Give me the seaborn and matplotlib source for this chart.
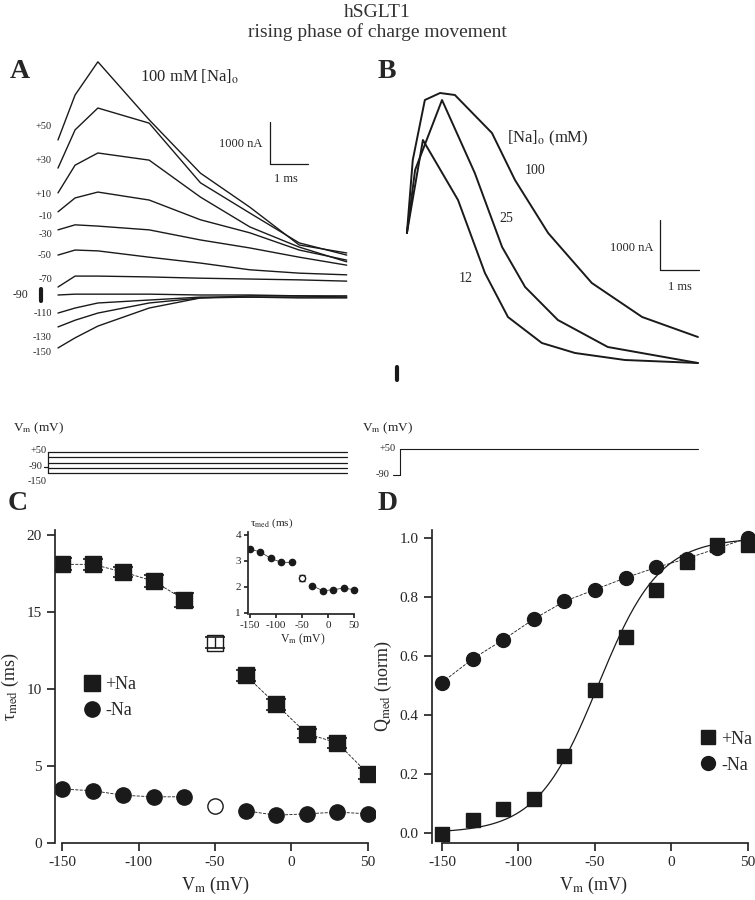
import numpy as np
import pandas as pd
import seaborn as sns
from matplotlib import pyplot as plt

sns.set_theme(style="ticks")
plt.rcParams['font.family'] = ['Liberation Serif', 'DejaVu Serif']
plt.rcParams['mathtext.fontset'] = 'stix'

W, H = 755, 900

# ---- panel A: current traces at each Vm (time ms, current nA) ----
tA = [0, 0.45, 1.05, 2.4, 3.75, 5.05, 6.35, 7.6]
tracesA = {
    '+50': [3690, 4760, 5550, 4170, 2900, 2090, 1190, 1000],
    '+30': [3020, 3930, 4450, 4090, 2670, 1950, 1240, 950],
    '+10': [2430, 3090, 3380, 3210, 2330, 1620, 1140, 790],
    '-10': [1980, 2310, 2450, 2260, 1790, 1480, 1070, 830],
    '-30': [1550, 1670, 1640, 1550, 1310, 1120, 900, 710],
    '-50': [950, 1070, 1050, 900, 760, 600, 520, 480],
    '-70': [190, 450, 450, 430, 400, 380, 360, 330],
    '-90': [0, 20, 20, 20, 0, 0, -20, -50],
    '-110': [-430, -310, -190, -120, -50, -50, -70, -70],
    '-130': [-760, -600, -430, -190, -70, -50, -50, -50],
    '-150': [-1260, -1020, -740, -310, -70, -20, -20, -20],
}
labelA_y = {'+50': 4000, '+30': 3210, '+10': 2400, '-10': 1880, '-30': 1450,
            '-50': 930, '-70': 380, '-110': -430, '-130': -1000,
            '-150': -1380}

# ---- panel B: traces at three [Na]o (mM) ----
tracesB = {
    '12': ([0, 0.41, 1.31, 2.0, 2.59, 3.46, 4.31, 5.59, 7.46],
           [2800, 4660, 3460, 2000, 1120, 600, 400, 260, 200]),
    '25': ([0, 0.21, 0.9, 1.74, 2.44, 3.03, 3.87, 5.15, 7.46],
           [2800, 4060, 5460, 4000, 2520, 1720, 1060, 520, 200]),
    '100': ([0, 0.15, 0.46, 0.85, 1.23, 2.18, 2.77, 3.62, 4.74, 6.03, 7.46],
            [2800, 4260, 5460, 5600, 5560, 4800, 3860, 2800, 1800, 1120, 720]),
}
labelB_pos = {'100': (3.28, 4040), '25': (2.56, 3080), '12': (1.5, 1880)}

# ---- voltage protocols (mV) ----
stepsA = [50, 0, -50, -100, -150]
stepsB = [50]

# ---- panels C / D ----
vm = [-150, -130, -110, -90, -70, -50, -30, -10, 10, 30, 50]
tau_na = [18.1, 18.1, 17.6, 17.0, 15.8, 13.0, 10.9, 9.0, 7.1, 6.5, 4.5]
tau_na_err = [0.4, 0.35, 0.35, 0.4, 0.45, 0.35, 0.35, 0.35, 0.3, 0.3, 0.35]
tau_nona = [3.5, 3.4, 3.1, 3.0, 3.0, 2.4, 2.1, 1.8, 1.9, 2.0, 1.9]
tau_inset = [3.45, 3.35, 3.1, 2.95, 2.95, 2.35, 2.05, 1.85, 1.9, 1.95, 1.9]
q_na = [-0.005, 0.045, 0.08, 0.115, 0.26, 0.485, 0.665, 0.825, 0.92, 0.975, 0.975]
q_nona = [0.51, 0.59, 0.655, 0.725, 0.785, 0.825, 0.865, 0.9, 0.93, 0.965, 1.0]
v_half, slope_k = -48.0, 20.0  # Boltzmann fit parameters

df = pd.DataFrame(dict(vm=vm, tau_na=tau_na, tau_nona=tau_nona,
                       tau_inset=tau_inset, q_na=q_na, q_nona=q_nona))
closed = df[df.vm != -50]
opened = df[df.vm == -50]


def px_axes(x0, y0, x1, y1):
    return fig.add_axes([x0 / W, 1 - y1 / H, (x1 - x0) / W, (y1 - y0) / H])


fig = plt.figure(figsize=(7.55, 9), dpi=100)
fig.text(0.5, 1 - 4 / H, 'hSGLT1\nrising phase of charge movement',
         ha='center', va='top', fontsize=14, color='#333333', linespacing=1.15)

# panel A
axA = px_axes(20, 45, 360, 370)
axA.set_xlim(-1.0, 7.95)
axA.set_ylim(-1785, 5950)
axA.axis('off')
for lab, vals in tracesA.items():
    sns.lineplot(x=tA, y=vals, ax=axA, color='k', lw=1.0)
    if lab in labelA_y:
        axA.text(-0.16, labelA_y[lab], lab, ha='right', va='center', fontsize=7.5)
axA.text(-0.79, 0, '-90', ha='right', va='center', fontsize=8.5)
axA.plot([-0.45, -0.45], [-150, 150], color='k', lw=3)
axA.plot([5.58, 5.58, 6.58], [4120, 3120, 3120], color='k', lw=0.9)
axA.text(5.39, 3590, '1000 nA', ha='right', va='center', fontsize=9)
axA.text(6.0, 2760, '1 ms', ha='center', va='center', fontsize=9)
axA.text(3.47, 5190, '100 mM [Na]$_\\mathrm{o}$', ha='center', va='center', fontsize=12)

# panel B
axB = px_axes(380, 45, 710, 390)
axB.set_xlim(-0.69, 7.77)
axB.set_ylim(-340, 6560)
axB.axis('off')
for lab, (tt, vals) in tracesB.items():
    sns.lineplot(x=tt, y=vals, ax=axB, color='k', lw=1.4)
    axB.text(*labelB_pos[lab], lab, ha='center', va='center', fontsize=10)
axB.plot([-0.26, -0.26], [-130, 130], color='k', lw=3)
axB.plot([6.49, 6.49, 7.49], [3060, 2060, 2060], color='k', lw=0.9)
axB.text(6.31, 2500, '1000 nA', ha='right', va='center', fontsize=9)
axB.text(6.99, 1720, '1 ms', ha='center', va='center', fontsize=9)
axB.text(3.6, 4700, '[Na]$_\\mathrm{o}$ (mM)', ha='center', va='center', fontsize=12)

# protocols
axPA = px_axes(20, 440, 360, 485)
axPA.set_xlim(-1.0, 7.95)
axPA.set_ylim(-264, 164)
axPA.axis('off')
for v in stepsA:
    axPA.plot([-0.26, 7.6], [v, v], color='k', lw=0.9)
axPA.plot([-0.26, -0.26], [-150, 50], color='k', lw=0.9)
axPA.plot([-0.37, -0.26], [-90, -90], color='k', lw=0.9)
axPA.text(-0.3, 60, '+50', ha='right', va='center', fontsize=7.5)
axPA.text(-0.4, -90, '-90', ha='right', va='center', fontsize=7.5)
axPA.text(-0.3, -185, '-150', ha='right', va='top', fontsize=7.5)
fig.text(13 / W, 1 - 428 / H, 'V$_\\mathrm{m}$ (mV)', fontsize=9.5, va='center')

axPB = px_axes(380, 440, 710, 485)
axPB.set_xlim(-0.69, 7.77)
axPB.set_ylim(-144, 98)
axPB.axis('off')
for v in stepsB:
    axPB.plot([-0.18, 7.46], [v, v], color='k', lw=0.8)
axPB.plot([-0.18, -0.18], [-90, 50], color='k', lw=0.8)
axPB.plot([-0.36, -0.18], [-90, -90], color='k', lw=0.8)
axPB.text(-0.3, 50, '+50', ha='right', va='center', fontsize=7.5)
axPB.text(-0.45, -90, '-90', ha='right', va='center', fontsize=7.5)
fig.text(362 / W, 1 - 428 / H, 'V$_\\mathrm{m}$ (mV)', fontsize=9.5, va='center')

# panel C
axC = px_axes(55, 530, 375, 843)
axC.set_xlim(-154.6, 54.6)
axC.set_ylim(0, 20.33)
for part in [closed[closed.vm < -50], closed[closed.vm > -50]]:
    sns.lineplot(data=part, x='vm', y='tau_na', ax=axC, color='k', lw=0.6,
                 linestyle='--')
    sns.lineplot(data=part, x='vm', y='tau_nona', ax=axC, color='k', lw=0.6,
                 linestyle='--')
axC.plot(closed.vm, closed.tau_na, 's', color='k', ms=11, label='+Na')
axC.plot(closed.vm, closed.tau_nona, 'o', color='k', ms=11, label='-Na')
axC.plot(opened.vm, opened.tau_na, 's', mfc='white', mec='k', ms=11)
axC.plot(opened.vm, opened.tau_nona, 'o', mfc='white', mec='k', ms=11)
axC.errorbar(vm, tau_na, yerr=tau_na_err, fmt='none', ecolor='k', capsize=7,
             capthick=1.2, lw=1, zorder=5)
axC.set_xticks([-150, -100, -50, 0, 50])
axC.set_yticks([0, 5, 10, 15, 20])
axC.set_xlabel('V$_\\mathrm{m}$ (mV)', fontsize=13)
axC.set_ylabel('τ$_\\mathrm{med}$ (ms)', fontsize=13)
axC.legend(loc='center left', bbox_to_anchor=(0.06, 0.465), frameon=False,
           fontsize=13, handletextpad=0.1, borderaxespad=0, labelspacing=0.5,
           handlelength=1.2)

# inset
axI = px_axes(248, 532, 358, 614)
axI.set_xlim(-153.8, 57.7)
axI.set_ylim(0.96, 4.115)
for part in [closed[closed.vm < -50], closed[closed.vm > -50]]:
    sns.lineplot(data=part, x='vm', y='tau_inset', ax=axI, color='k', lw=0.5)
axI.plot(closed.vm, closed.tau_inset, 'o', color='k', ms=4.5)
axI.errorbar(opened.vm, opened.tau_inset, yerr=0.12, fmt='o', mfc='white',
             mec='k', ecolor='k', ms=4.5, capsize=2, lw=0.7)
axI.set_xticks([-150, -100, -50, 0, 50])
axI.set_xticklabels(['-150', '-100', '-50', '0', '50'])
axI.set_yticks([1, 2, 3, 4])
axI.tick_params(labelsize=8, length=3, pad=2)
axI.set_xlabel('V$_\\mathrm{m}$ (mV)', fontsize=8.5, labelpad=1)
axI.set_ylabel('')
axI.text(0.02, 1.02, 'τ$_\\mathrm{med}$ (ms)', transform=axI.transAxes,
         fontsize=8, va='bottom')

# panel D
axD = px_axes(432, 530, 755, 843)
axD.set_xlim(-156.5, 54.6)
axD.set_ylim(-0.034, 1.027)
vfit = np.linspace(-150, 50, 200)
axD.plot(vfit, 1 / (1 + np.exp(-(vfit - v_half) / slope_k)), color='k', lw=0.9)
sns.lineplot(data=df, x='vm', y='q_nona', ax=axD, color='k', lw=0.6,
             linestyle='--')
axD.plot(df.vm, df.q_na, 's', color='k', ms=9.5, label='+Na')
axD.plot(df.vm, df.q_nona, 'o', color='k', ms=10, label='-Na')
axD.set_xticks([-150, -100, -50, 0, 50])
axD.set_yticks(np.arange(0, 1.01, 0.2))
axD.set_yticklabels([f'{v:.1f}' for v in np.arange(0, 1.01, 0.2)])
axD.set_xlabel('V$_\\mathrm{m}$ (mV)', fontsize=13)
axD.set_ylabel('Q$_\\mathrm{med}$ (norm)', fontsize=13)
axD.legend(loc='center left', bbox_to_anchor=(0.8, 0.29), frameon=False,
           fontsize=13, handletextpad=0.1, borderaxespad=0, labelspacing=0.5,
           handlelength=1.2)

for ax in (axC, axD, axI):
    sns.despine(ax=ax)
    ax.spines['bottom'].set_bounds(-150, 50)
for ax in (axC, axD):
    ax.set_xticklabels(['-150', '-100', '-50', '0', '50'])
    ax.tick_params(labelsize=11, direction='out')

for x, y, s in [(10, 72, 'A'), (378, 72, 'B'), (8, 503, 'C'), (378, 503, 'D')]:
    fig.text(x / W, 1 - y / H, s, fontsize=20, fontweight='bold', va='center')

fig.savefig('out.png', dpi=100)
